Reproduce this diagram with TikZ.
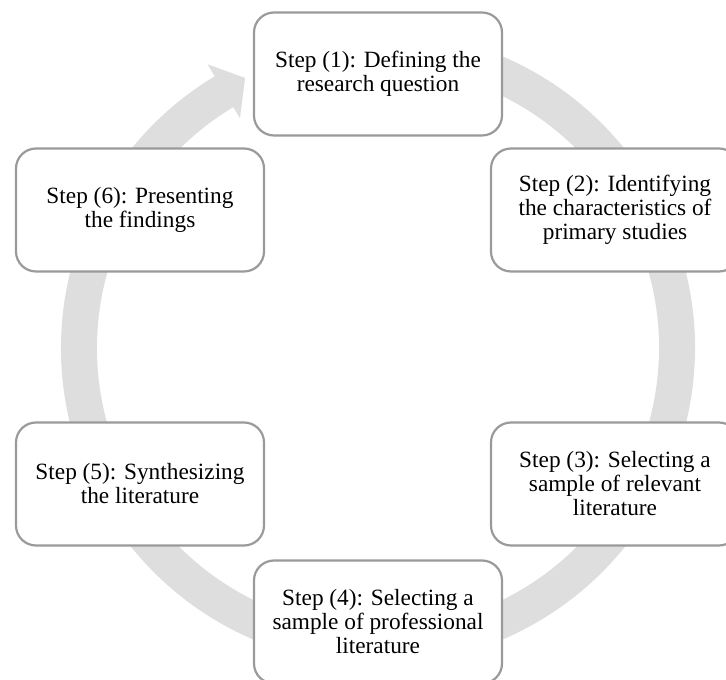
\documentclass[tikz,border=0pt]{standalone}
\usepackage{fontspec}
\setmainfont{Liberation Serif}
\definecolor{ringgray}{HTML}{DEDEDE}
\definecolor{boxgray}{HTML}{9A9A9A}
\tikzset{
  x=1pt, y=1pt,
  stepbox/.style={draw=boxgray, line width=2.2pt, fill=white, rounded corners=20pt,
    minimum width=248pt, minimum height=123pt, align=center, inner sep=4pt,
    font=\fontsize{23.3pt}{24pt}\selectfont},
  ring/.style={fill=ringgray, draw=none}
}
\begin{document}
\begin{tikzpicture}
\useasboundingbox (0,0) rectangle (726,680);
\clip (0,0) rectangle (726,680);
% circular arrow
\begin{scope}[shift={(378,332)}]
\fill[ring] (80:317) arc[start angle=80, end angle=-239, radius=317]
  -- (121:331) -- (116.2:301) -- (121:268) -- (121:281)
  arc[start angle=-239, end angle=80, radius=281] -- cycle;
\end{scope}
% step boxes
\node[stepbox] (s1) at (378,606) {Step (1): Defining the\\research question};
\node[stepbox] (s2) at (615,470) {Step (2): Identifying\\the characteristics of\\primary studies};
\node[stepbox] (s3) at (615,196) {Step (3): Selecting a\\sample of relevant\\literature};
\node[stepbox] (s4) at (378,58) {Step (4): Selecting a\\sample of professional\\literature};
\node[stepbox] (s5) at (140,196) {Step (5): Synthesizing\\the literature};
\node[stepbox] (s6) at (140,470) {Step (6): Presenting\\the findings};
\end{tikzpicture}
\end{document}
